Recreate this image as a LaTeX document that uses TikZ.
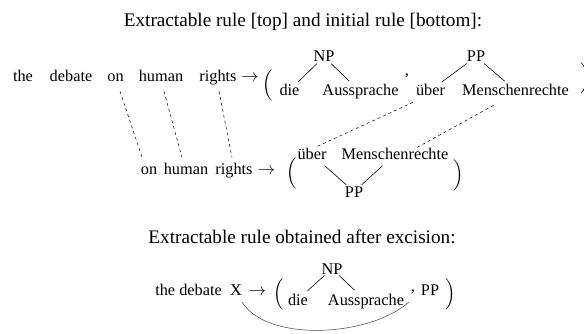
\documentclass[tikz,border=0pt]{standalone}
\usepackage{amsmath}
\usepackage{fontspec}
\setmainfont{Liberation Serif}
\newcommand\mybody{\fontsize{16.3}{19}\selectfont}
\newcommand\mytitle{\fontsize{19.2}{23}\selectfont}
\begin{document}
\begin{tikzpicture}[x=1pt,y=-1pt,
  txt/.style={inner sep=0pt,anchor=base,font=\mybody},
  ttl/.style={inner sep=0pt,anchor=base,font=\mytitle},
  paren/.style={inner sep=0pt,anchor=center,font=\mybody},
  tree/.style={line width=0.6pt},
  corr/.style={line width=0.5pt,dash pattern=on 3pt off 3pt},
  excise/.style={line width=0.5pt,black!75}]
\path[fill=white,use as bounding box] (0,0) rectangle (584,334);
% title 1
\node[ttl] (title1) at (303,27) {Extractable rule [top] and initial rule [bottom]:};
% row 1
\node[txt] (the1) at (23,82) {the};
\node[txt] (deb1) at (71,82) {debate};
\node[txt] (on1) at (115.5,82) {on};
\node[txt] (hum1) at (161,82) {human};
\node[txt] (rig1) at (218,82) {rights};
\node[txt] (arr1) at (250,82) {$\rightarrow$};
\node[paren] (lp1) at (268,85) {$\Big($};
\node[txt] (die1) at (289.5,96) {die};
\node[txt] (aus1) at (360.5,96) {Aussprache};
\node[txt] (np1) at (324,62) {NP};
\node[txt] (com1) at (407,76) {,};
\node[txt] (ub1) at (430.5,96) {über};
\node[txt] (men1) at (515.5,96) {Menschenrechte};
\node[txt] (pp1) at (476,62) {PP};
\node[paren] (rp1) at (586,78) {$\Big)$};
\draw[tree,shorten <=2pt,shorten >=4pt] (np1) -- (die1);
\draw[tree,shorten <=2pt,shorten >=5pt] (np1) -- (aus1);
\draw[tree,shorten <=2pt,shorten >=4pt] (pp1) -- (ub1);
\draw[tree,shorten <=2pt,shorten >=5pt] (pp1) -- (men1);
% row 2
\node[txt] (on2) at (149,175) {on};
\node[txt] (hum2) at (186,175) {human};
\node[txt] (rig2) at (234,175) {rights};
\node[txt] (arr2) at (266.5,175) {$\rightarrow$};
\node[paren] (lp2) at (292,173) {$\Big($};
\node[txt] (ub2) at (312,160) {über};
\node[txt] (men2) at (395,160) {Menschenrechte};
\node[txt] (pp2) at (354,197) {PP};
\node[paren] (rp2) at (458.5,175) {$\Big)$};
\draw[tree,shorten <=8pt,shorten >=2pt] (ub2) -- (pp2);
\draw[tree,shorten <=8pt,shorten >=2pt] (men2) -- (pp2);
% correspondences
\draw[corr] ([xshift=4.5pt,yshift=-9pt]on1.south) -- ([xshift=-6pt,yshift=7pt]on2.north);
\draw[corr] ([xshift=3pt,yshift=-9pt]hum1.south) -- ([xshift=-4pt,yshift=6pt]hum2.north);
\draw[corr] ([xshift=1pt,yshift=-5.5pt]rig1.south) -- ([xshift=-2pt,yshift=6pt]rig2.north);
\draw[corr] ([xshift=-17.5pt,yshift=-6pt]ub1.south) -- ([xshift=5pt,yshift=2pt]ub2.north);
\draw[corr] ([xshift=-22pt,yshift=-9pt]men1.south) -- ([xshift=22pt,yshift=1pt]men2.north);
% title 2
\node[ttl] (title2) at (302,243) {Extractable rule obtained after excision:};
% row 3
\node[txt,anchor=base east] (deb3) at (222,295) {the debate};
\node[txt] (x3) at (236,295) {X};
\node[txt] (arr3) at (257.5,295) {$\rightarrow$};
\node[paren] (lp3) at (278.5,294) {$\Big($};
\node[txt] (die3) at (298,305) {die};
\node[txt] (aus3) at (366,305) {Aussprache};
\node[txt] (np3) at (332,274) {NP};
\node[txt] (com3) at (413,291) {,};
\node[txt] (pp3) at (430,295) {PP};
\node[paren] (rp3) at (451,294) {$\Big)$};
\draw[tree,shorten <=2pt,shorten >=4pt] (np3) -- (die3);
\draw[tree,shorten <=2pt,shorten >=5pt] (np3) -- (aus3);
\draw[excise] ([yshift=-7pt]x3.south east) .. controls +(25,40) and +(-40,35) .. ([xshift=-12pt,yshift=-7pt]pp3.south west);
\end{tikzpicture}
\end{document}
